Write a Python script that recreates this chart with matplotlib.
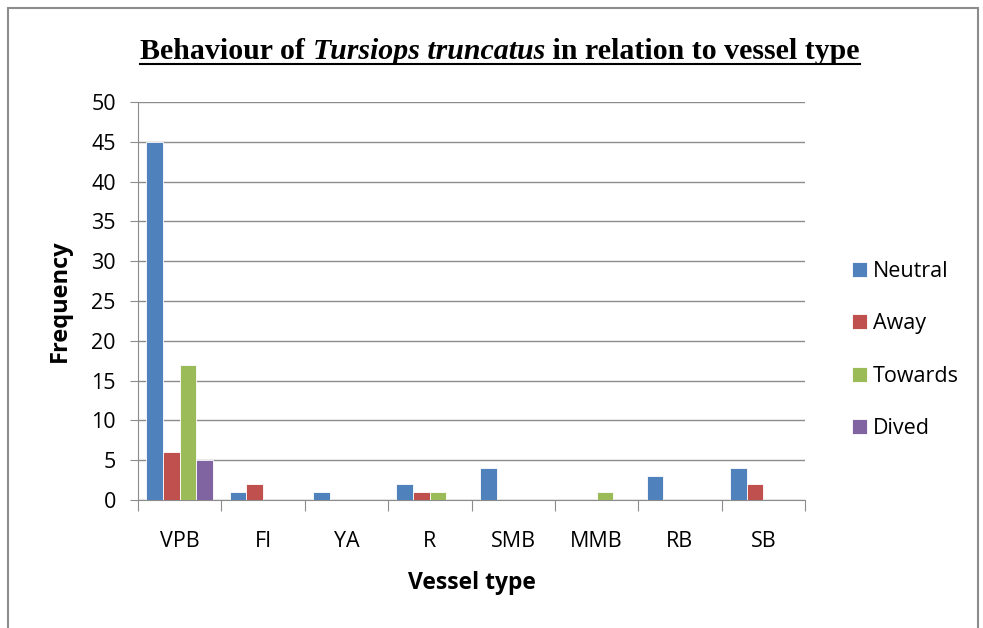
import numpy as np
import matplotlib
matplotlib.use("Agg")
import matplotlib.pyplot as plt
from matplotlib.patches import Rectangle
from matplotlib.lines import Line2D

categories = ["VPB", "FI", "YA", "R", "SMB", "MMB", "RB", "SB"]
series_names = ["Neutral", "Away", "Towards", "Dived"]
neutral = [45, 1, 1, 2, 4, 0, 3, 4]
away = [6, 2, 0, 1, 0, 0, 0, 2]
towards = [17, 0, 0, 1, 0, 1, 0, 0]
dived = [5, 0, 0, 0, 0, 0, 0, 0]
colors = ["#4F81BD", "#C0504D", "#9BBB59", "#8064A2"]

plt.rcParams["font.family"] = ["Open Sans", "DejaVu Sans"]

fig = plt.figure(figsize=(9.83, 6.28), dpi=100)
fig.patch.set_facecolor("white")

# chart frame
fig.patches.append(Rectangle((8 / 983, -0.01), 970 / 983, 1 - 8 / 628 + 0.01,
                             transform=fig.transFigure, fill=False,
                             edgecolor="#8c8c8c", linewidth=1.5))

ax = fig.add_axes([138 / 983, 1 - 500 / 628, 667 / 983, 398 / 628])

x = np.arange(len(categories))
width = 0.2
for i, (vals, name) in enumerate(zip([neutral, away, towards, dived], series_names)):
    ax.bar(x + (i - 1.5) * width, vals, width, color=colors[i], label=name,
           edgecolor="white", linewidth=0.6, zorder=3)

ax.set_xlim(-0.5, len(categories) - 0.5)
ax.set_ylim(0, 50)
ax.set_yticks(range(0, 51, 5))
ax.yaxis.grid(True, color="#8c8c8c", linewidth=1, zorder=0)
ax.set_axisbelow(True)

ax.set_xticks(np.arange(len(categories) + 1) - 0.5)
ax.set_xticklabels([])
ax.set_xticks(x, minor=True)
ax.set_xticklabels(categories, minor=True)
ax.tick_params(axis="x", which="major", length=8, color="#8c8c8c", direction="out")
ax.tick_params(axis="x", which="minor", length=0, pad=22, labelsize=15.5)
ax.tick_params(axis="y", length=6, color="#8c8c8c", labelsize=15.5, pad=10)

for s in ["top", "right"]:
    ax.spines[s].set_visible(False)
for s in ["left", "bottom"]:
    ax.spines[s].set_color("#8c8c8c")

ax.set_ylabel("Frequency", fontsize=17, fontweight="bold", labelpad=14)
ax.set_xlabel("Vessel type", fontsize=16.5, fontweight="bold", labelpad=14)

ax.legend(loc="center left", bbox_to_anchor=(843 / 983, 1 - 350 / 628),
          bbox_transform=fig.transFigure, frameon=False, fontsize=15.5,
          handlelength=0.7, handleheight=0.7, handletextpad=0.3,
          labelspacing=1.45, borderaxespad=0)

# title in three pieces with underline
parts = [("Behaviour of ", "normal"), ("Tursiops truncatus", "italic"),
         (" in relation to vessel type", "normal")]
renderer = fig.canvas.get_renderer()
texts = []
for s, style in parts:
    t = fig.text(0, 1 - 59 / 628, s, fontsize=21.5, fontweight="bold", style=style,
                 family="Liberation Serif", va="baseline", ha="left")
    texts.append(t)
widths = [t.get_window_extent(renderer).width for t in texts]
total = sum(widths)
xpos = 500 - total / 2
start = xpos
for t, w in zip(texts, widths):
    t.set_x(xpos / 983)
    xpos += w
fig.lines.append(Line2D([start / 983, xpos / 983], [1 - 64 / 628, 1 - 64 / 628],
                        transform=fig.transFigure, color="black", linewidth=1.5))

fig.savefig("out.png", dpi=100)
